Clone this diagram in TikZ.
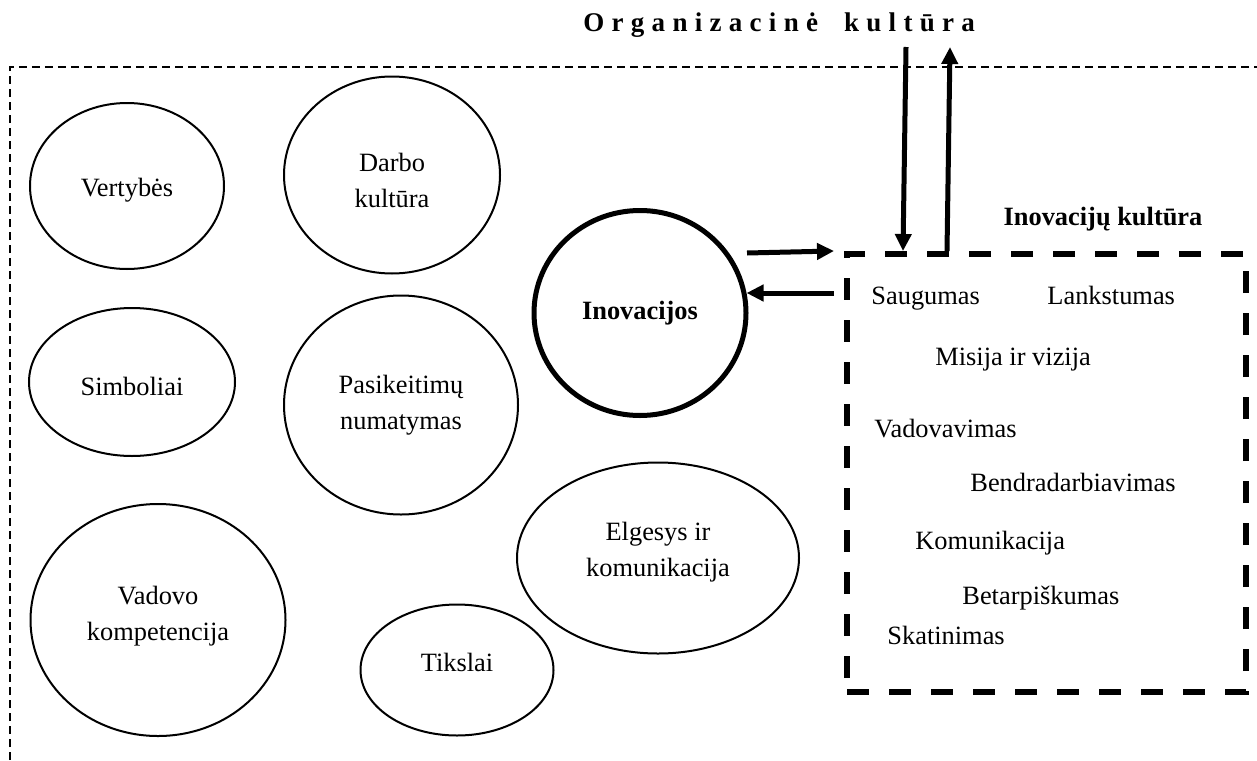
\documentclass[tikz,border=0pt]{standalone}
\usepackage{fontspec}
\setmainfont{Liberation Serif}
\usetikzlibrary{shapes.geometric,arrows.meta,calc}
\begin{document}
\begin{tikzpicture}[x=0.5pt,y=-0.5pt,
  every node/.style={font=\fontsize{13.2}{18}\selectfont},
  bub/.style={ellipse,draw,line width=1pt,inner sep=0pt,align=center},
  boldbub/.style={bub,line width=2.5pt,font=\fontsize{13.2}{18}\selectfont\bfseries},
  outerframe/.style={line width=1pt,dash pattern=on 4pt off 2.5pt},
  ikframe/.style={draw,line width=3pt,dash pattern=on 11pt off 10pt,inner sep=0pt},
  arr/.style={line width=2.5pt,-{Triangle[length=8.5pt,width=8pt]}},
  item/.style={anchor=base west,inner sep=0pt}]
\useasboundingbox (0,0) rectangle (1257,760);

% outer frame of the organisational culture (open at right and bottom)
\draw[outerframe] (10,760) -- (10,67) -- (1257,67);

% title
\node[anchor=west,inner sep=0pt,font=\fontsize{13.5}{18}\selectfont\bfseries\addfontfeature{LetterSpace=27}] (title) at (583,25) {Organizacinė\hspace{6pt} kultūra};

% elements of the culture
\node[bub,minimum width=97pt,minimum height=83pt,text height=13pt] (vert) at (127,186) {Vertybės};
\node[bub,minimum width=108pt,minimum height=98.5pt,text height=32.5pt] (darbo) at (392,175) {Darbo\\kultūra};
\node[bub,minimum width=103pt,minimum height=74pt,text height=14pt] (simb) at (132,382) {Simboliai};
\node[bub,minimum width=117pt,minimum height=109.5pt] (pasik) at (401,405) {Pasikeitimų\\numatymas};
\node[bub,minimum width=127.5pt,minimum height=116pt,text depth=7pt] (vadovo) at (158,620) {Vadovo\\kompetencija};
\node[bub,minimum width=141pt,minimum height=95.5pt,text depth=9pt] (elg) at (658,558) {Elgesys ir\\komunikacija};
\node[bub,minimum width=96.5pt,minimum height=65.5pt,text depth=8pt] (tiks) at (457,670) {Tikslai};
\node[boldbub,minimum width=106pt,minimum height=102.5pt] (inov) at (640,313) {Inovacijos};

% innovation culture box
\node[ikframe,minimum width=199.5pt,minimum height=219pt] (ikbox) at (1046.5,473) {};
\node[font=\fontsize{13.2}{18}\selectfont\bfseries] (iktitle) at (1103,219) {Inovacijų kultūra};

\node[item] (saug) at (871,304) {Saugumas};
\node[item] (lank) at (1047,304) {Lankstumas};
\node[item] (misija) at (935,365) {Misija ir vizija};
\node[item] (vadov) at (874,437) {Vadovavimas};
\node[item] (bendr) at (970,491) {Bendradarbiavimas};
\node[item] (komun) at (915,549) {Komunikacija};
\node[item] (betarp) at (962,604) {Betarpiškumas};
\node[item] (skat) at (887,644) {Skatinimas};

% connectors
\coordinate (dtop) at (906,47);
\coordinate (utop) at (950,47);
\coordinate (inovout) at ($(inov.center)+(107,-60)$);
\coordinate (inovin) at ($(ikbox.north west)+(-10,42)$);
\draw[arr] (inovout) -- ($(ikbox.north west)+(-10,0)$);
\draw[arr] (inovin) -- ($(inovin -| inov.east)+(-2,0)$);
\draw[arr] (dtop) -- ($(ikbox.north west)+(59,0)$);
\draw[arr] ($(ikbox.north west)+(103,0)$) -- (utop);
\end{tikzpicture}
\end{document}
